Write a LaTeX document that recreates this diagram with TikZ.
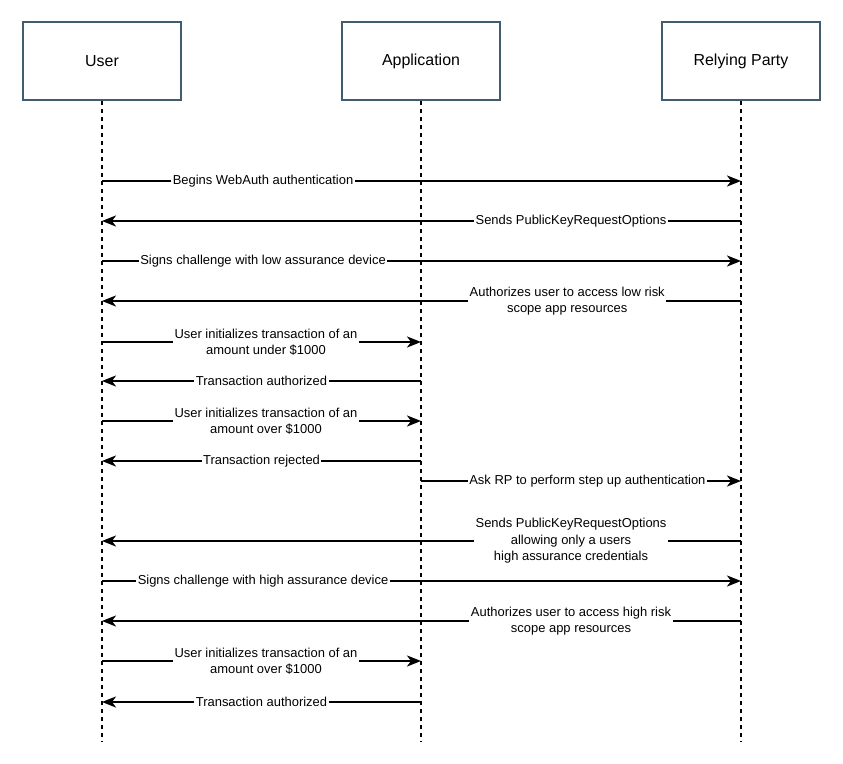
\documentclass[tikz,border=0pt]{standalone}
\usepackage{fontspec}
\setmainfont{Liberation Sans}
\usetikzlibrary{arrows.meta}
\definecolor{boxedge}{HTML}{3F5D6E}

\begin{document}
\begin{tikzpicture}[x=1bp,y=-1bp,
    party/.style={draw=boxedge, line width=2.5bp, minimum width=158bp, minimum height=78bp, font=\fontsize{16}{19}\selectfont},
    lifeline/.style={line width=1.8bp, dash pattern=on 4bp off 4bp},
    msg/.style={line width=1.8bp, -{Stealth[length=14bp,width=11bp,inset=4bp]}},
    lbl/.style={fill=white, inner xsep=1.5bp, inner ysep=0bp, align=center, font=\fontsize{13}{16.5}\selectfont}]
    \useasboundingbox (0,0) rectangle (843,764);
    \node[party] (user) at (102,61) {User}; % user box
    \node[party] (app) at (421,61) {Application}; % application box
    \node[party] (rp) at (741,61) {Relying Party}; % relying party box
    \coordinate (userend) at (102,742);
    \coordinate (append) at (421,742);
    \coordinate (rpend) at (741,742);
    \draw[lifeline] (user) -- (userend); % user lifeline
    \draw[lifeline] (app) -- (append); % application lifeline
    \draw[lifeline] (rp) -- (rpend); % relying party lifeline
    \draw[msg] (user |- 0,181) -- node[lbl, pos=.252] {Begins WebAuth authentication} (rp |- 0,181);
    \draw[msg] (rp |- 0,221) -- node[lbl, pos=.266] {Sends PublicKeyRequestOptions} (user |- 0,221);
    \draw[msg] (user |- 0,261) -- node[lbl, pos=.252] {Signs challenge with low assurance device} (rp |- 0,261);
    \draw[msg] (rp |- 0,301) -- node[lbl, pos=.272] {Authorizes user to access low risk\\scope app resources} (user |- 0,301);
    \draw[msg] (user |- 0,342) -- node[lbl, pos=.514] {User initializes transaction of an\\amount under \$1000} (app |- 0,342);
    \draw[msg] (app |- 0,381) -- node[lbl, pos=.5] {Transaction authorized} (user |- 0,381);
    \draw[msg] (user |- 0,421) -- node[lbl, pos=.514] {User initializes transaction of an\\amount over \$1000} (app |- 0,421);
    \draw[msg] (app |- 0,461) -- node[lbl, pos=.5] {Transaction rejected} (user |- 0,461);
    \draw[msg] (app |- 0,481) -- node[lbl, pos=.52] {Ask RP to perform step up authentication} (rp |- 0,481);
    \draw[msg] (rp |- 0,541) -- node[lbl, pos=.266] {Sends PublicKeyRequestOptions\\allowing only a users\\high assurance credentials} (user |- 0,541);
    \draw[msg] (user |- 0,581) -- node[lbl, pos=.252] {Signs challenge with high assurance device} (rp |- 0,581);
    \draw[msg] (rp |- 0,621) -- node[lbl, pos=.266] {Authorizes user to access high risk\\scope app resources} (user |- 0,621);
    \draw[msg] (user |- 0,661) -- node[lbl, pos=.514] {User initializes transaction of an\\amount over \$1000} (app |- 0,661);
    \draw[msg] (app |- 0,702) -- node[lbl, pos=.5] {Transaction authorized} (user |- 0,702);
\end{tikzpicture}
\end{document}
